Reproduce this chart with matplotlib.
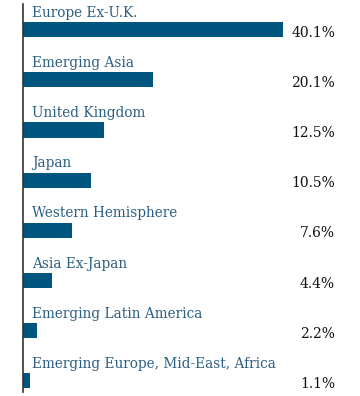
import matplotlib
matplotlib.use("Agg")
import matplotlib.pyplot as plt
import matplotlib.transforms as mtransforms

categories = ["Europe Ex-U.K.", "Emerging Asia", "United Kingdom", "Japan",
              "Western Hemisphere", "Asia Ex-Japan", "Emerging Latin America",
              "Emerging Europe, Mid-East, Africa"]
values = [40.1, 20.1, 12.5, 10.5, 7.6, 4.4, 2.2, 1.1]
value_labels = ["40.1%", "20.1%", "12.5%", "10.5%", "7.6%", "4.4%", "2.2%", "1.1%"]

W, H = 360, 396
fig = plt.figure(figsize=(W / 100, H / 100), dpi=100)
ax = fig.add_axes([23 / W, (H - 392) / H, (340 - 23) / W, (392 - 4) / H])

bar_color = "#00557f"
label_color = "#2b5f82"
font = "DejaVu Serif"

ypos = list(range(len(categories)))
ax.barh(ypos, values, height=0.3, color=bar_color)
ax.set_xlim(0, 40.1 * 317 / 260)
ax.set_ylim(7.22, -0.51)

for y, cat in zip(ypos, categories):
    ax.text(1.35, y - 0.34, cat, ha="left", va="center", color=label_color,
            fontsize=9.8, family=font)

trans = mtransforms.blended_transform_factory(ax.transAxes, ax.transData)
for y, lab in zip(ypos, value_labels):
    ax.text((335 - 23) / 317, y + 0.06, lab, ha="right", va="center", color="#111111",
            fontsize=10, family=font, transform=trans)

for s in ["top", "right", "bottom"]:
    ax.spines[s].set_visible(False)
ax.spines["left"].set_color("#333333")
ax.spines["left"].set_linewidth(1.2)
ax.set_xticks([])
ax.set_yticks([])

fig.savefig("out.png", dpi=100)
